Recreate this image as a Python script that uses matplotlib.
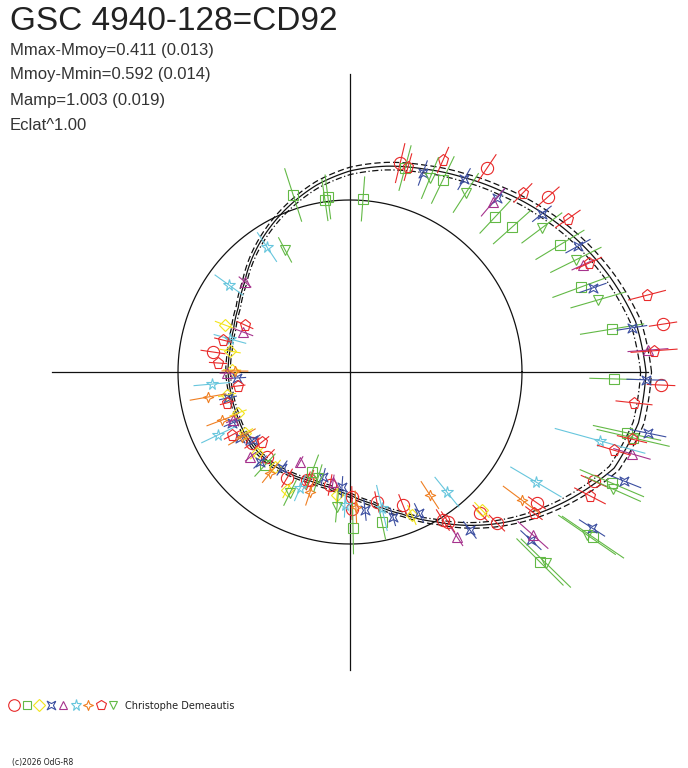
import numpy as np
import matplotlib
matplotlib.use("Agg")
import matplotlib.pyplot as plt
from matplotlib.path import Path
from matplotlib.patches import PathPatch

# phase angle (deg), relative flux (mean = 1), flux error
obs_circle = [(76.5, 1.249, 0.116), (56.1, 1.429, 0.093), (41.5, 1.536, 0.087), (8.7, 1.841, 0.08),
              (357.6, 1.81, 0.08), (335.9, 1.553, 0.08), (325.0, 1.327, 0.06), (312.7, 1.115, 0.06),
              (314.2, 1.225, 0.064), (302.1, 1.016, 0.07), (303.2, 1.042, 0.07), (291.7, 0.832, 0.064),
              (281.7, 0.772, 0.06), (270.9, 0.727, 0.06), (270.8, 0.797, 0.06), (260.0, 0.667, 0.06),
              (249.7, 0.67, 0.06), (239.3, 0.717, 0.06), (225.7, 0.691, 0.06), (215.9, 0.704, 0.05),
              (248.3, 0.676, 0.05), (171.7, 0.805, 0.07)]
obs_square = [(107.8, 1.081, 0.16), (97.2, 1.026, 0.128), (98.3, 1.01, 0.12), (85.7, 1.009, 0.128),
              (74.9, 1.228, 0.134), (64.2, 1.24, 0.15), (46.9, 1.234, 0.128), (41.8, 1.264, 0.145),
              (31.2, 1.427, 0.163), (20.2, 1.431, 0.174), (9.3, 1.544, 0.186), (358.5, 1.535, 0.14),
              (347.6, 1.649, 0.2), (346.9, 1.69, 0.215), (337.0, 1.654, 0.2), (325.8, 1.708, 0.215),
              (315.0, 1.562, 0.19), (282.0, 0.892, 0.1), (271.1, 0.907, 0.15), (249.2, 0.622, 0.105),
              (227.6, 0.733, 0.087)]
obs_diamond = [(313.7, 1.11, 0.06), (293.4, 0.906, 0.06), (264.0, 0.719, 0.05), (241.9, 0.778, 0.05),
               (221.1, 0.717, 0.05), (210.2, 0.706, 0.05), (231.7, 0.704, 0.05), (190.6, 0.727, 0.05),
               (200.1, 0.693, 0.05), (159.4, 0.776, 0.06), (170.1, 0.708, 0.06), (179.0, 0.686, 0.05)]
obs_cross = [(69.9, 1.232, 0.075), (59.4, 1.303, 0.07), (49.8, 1.324, 0.07), (39.5, 1.446, 0.07),
             (28.9, 1.514, 0.08), (19.1, 1.495, 0.08), (8.9, 1.659, 0.087), (358.5, 1.721, 0.11),
             (348.4, 1.769, 0.105), (338.3, 1.714, 0.105), (307.2, 1.153, 0.06), (317.1, 1.436, 0.08),
             (327.2, 1.674, 0.087), (296.1, 0.913, 0.06), (286.5, 0.879, 0.052), (276.2, 0.807, 0.06),
             (266.0, 0.67, 0.06), (255.6, 0.63, 0.05), (234.7, 0.684, 0.05), (225.0, 0.74, 0.05),
             (211.0, 0.746, 0.05), (215.0, 0.689, 0.05), (192.0, 0.725, 0.05), (203.4, 0.747, 0.05),
             (183.0, 0.658, 0.05)]
obs_triangle = [(49.9, 1.291, 0.105), (24.7, 1.491, 0.07), (4.2, 1.737, 0.116), (343.8, 1.707, 0.11),
                (318.3, 1.425, 0.116), (303.0, 1.143, 0.06), (261.2, 0.647, 0.04), (240.9, 0.599, 0.035),
                (220.4, 0.763, 0.035), (202.3, 0.735, 0.04), (159.5, 0.664, 0.06), (180.5, 0.715, 0.04),
                (139.4, 0.804, 0.045)]
obs_star = [(344.6, 1.508, 0.27), (329.4, 1.256, 0.17), (308.9, 0.897, 0.11), (283.2, 0.812, 0.134),
            (267.8, 0.774, 0.07), (246.7, 0.734, 0.08), (205.5, 0.85, 0.105), (185.0, 0.805, 0.105),
            (164.6, 0.724, 0.095), (123.6, 0.872, 0.1), (144.3, 0.866, 0.1)]
obs_sparkle = [(323.3, 1.246, 0.134), (303.0, 0.853, 0.093), (272.5, 0.786, 0.093), (251.6, 0.735, 0.08),
               (231.6, 0.749, 0.07), (211.0, 0.733, 0.09), (190.0, 0.838, 0.105), (200.6, 0.795, 0.093),
               (179.5, 0.669, 0.075)]
obs_pentagon = [(74.2, 1.238, 0.08), (66.3, 1.346, 0.08), (46.0, 1.447, 0.075), (35.1, 1.548, 0.087),
                (24.5, 1.527, 0.08), (14.5, 1.784, 0.11), (4.0, 1.772, 0.134), (353.8, 1.661, 0.105),
                (346.6, 1.685, 0.087), (343.5, 1.6, 0.1), (332.7, 1.57, 0.1), (322.5, 1.348, 0.06),
                (218.5, 0.654, 0.05), (208.1, 0.778, 0.05), (187.1, 0.656, 0.04), (194.1, 0.737, 0.04),
                (155.9, 0.669, 0.05), (165.9, 0.761, 0.05), (176.1, 0.769, 0.05)]
obs_tridown = [(67.6, 1.22, 0.128), (57.1, 1.24, 0.134), (36.9, 1.395, 0.145), (26.4, 1.466, 0.163),
               (16.2, 1.501, 0.163), (336.0, 1.673, 0.175), (325.5, 1.672, 0.2), (315.7, 1.591, 0.2),
               (264.5, 0.788, 0.087), (253.2, 0.644, 0.08), (243.6, 0.785, 0.08), (118.0, 0.804, 0.08)]

# fitted light curve, read every 10 deg of phase
fit_phase = np.arange(0, 370, 10)
fit_flux = [1.721, 1.686, 1.610, 1.529, 1.448, 1.372, 1.308, 1.256, 1.215, 1.169,
            1.105, 1.029, 0.953, 0.878, 0.802, 0.750, 0.721, 0.709, 0.709, 0.703,
            0.703, 0.709, 0.709, 0.703, 0.686, 0.674, 0.680, 0.715, 0.779, 0.878,
            1.006, 1.163, 1.320, 1.477, 1.634, 1.703, 1.721]
fit_sigma = 0.02  # mag

title = "GSC 4940-128=CD92"
info_lines = ["Mmax-Mmoy=0.411 (0.013)", "Mmoy-Mmin=0.592 (0.014)",
              "Mamp=1.003 (0.019)", "Eclat^1.00"]
observer = "Christophe Demeautis"

red = "#e82a2a"
green = "#63b946"
blue_star = [(1, 1), (0, 0.45), (-1, 1), (-0.45, 0), (-1, -1), (0, -0.45), (1, -1), (0.45, 0), (1, 1)]
spark = [(0, 1), (0.28, 0.28), (1, 0), (0.28, -0.28), (0, -1), (-0.28, -0.28), (-1, 0), (-0.28, 0.28), (0, 1)]
series = [(obs_circle, "o", red, 8.8),
          (obs_square, "s", green, 6.5),
          (obs_diamond, "D", "#f2e41c", 6.0),
          (obs_cross, blue_star, "#3b4ea0", 6.5),
          (obs_triangle, "^", "#a6338d", 6.5),
          (obs_star, "*", "#67c6dd", 8.5),
          (obs_sparkle, spark, "#ef7f22", 7.5),
          (obs_pentagon, "p", red, 8.2),
          (obs_tridown, "v", green, 6.5)]

W, H = 688, 768
fig = plt.figure(figsize=(W / 100, H / 100), dpi=100)
plt.rcParams['font.family'] = ['Liberation Sans', 'DejaVu Sans']

# polar axes: centre at (350, 372) px, 172 px per flux unit
R = 1.75
scale = 172.0
cx, cy = 350, 372
rad = R * scale
ax = fig.add_axes([(cx - rad) / W, (H - cy - rad) / H, 2 * rad / W, 2 * rad / H], projection='polar')
ax.set_ylim(0, R)
ax.set_axis_off()

th = np.radians(fit_phase)
ff = np.array(fit_flux)
k = 10 ** (0.4 * fit_sigma)
cross_r = 1.733
ink = "#111111"
for a in [0, np.pi / 2, np.pi, 3 * np.pi / 2]:
    ax.plot([a, a], [0, cross_r], color=ink, lw=0.9, clip_on=False)

circ = np.linspace(0, 2 * np.pi, 361)
ax.plot(circ, np.ones_like(circ), color=ink, lw=0.9, clip_on=False)


def polar_curve(r, ls):
    # polar transform bends each segment between read points
    p = Path(np.column_stack([th, r]), _interpolation_steps=12)
    ax.add_patch(PathPatch(p, fill=False, edgecolor=ink, lw=0.9, ls=ls,
                           transform=ax.transData, clip_on=False))


polar_curve(ff, "-")
polar_curve(ff * k, (0, (5, 2.5)))
polar_curve(ff / k, (0, (5, 2, 1, 2)))

for data, mk, col, ms in series:
    for ph, fl, er in data:
        t = np.radians(ph)
        ax.plot([t, t], [fl - er, fl + er], color=col, lw=0.8, clip_on=False)
    ph = np.radians([d[0] for d in data])
    fl = [d[1] for d in data]
    ax.plot(ph, fl, ls="none", marker=mk, ms=ms, mfc="none", mec=col, mew=0.8, clip_on=False)

fig.text(10 / W, 1 - 21 / H, title, fontsize=24, color="#222222", va="center", ha="left")
for i, s in enumerate(info_lines):
    fig.text(10 / W, 1 - (50 + 25 * i) / H, s, fontsize=12, color="#333333", va="center", ha="left")

# marker key at the bottom
lax = fig.add_axes([8 / W, 1 - 712 / H, 111 / W, 14 / H])
lax.set_xlim(-0.5, 8.5)
lax.set_ylim(-1, 1)
lax.set_axis_off()
for i, (data, mk, col, ms) in enumerate(series):
    lax.plot([i], [0], ls="none", marker=mk, ms=ms * 0.95, mfc="none", mec=col, mew=0.8, clip_on=False)
fig.text(125 / W, 1 - 706 / H, observer, fontsize=7, color="#222222", va="center", ha="left",
         family="DejaVu Sans")
fig.text(12 / W, 1 - 763 / H, "(c)2026 OdG-R8", fontsize=5.5, color="#222222", va="center", ha="left",
         family="DejaVu Sans")

fig.savefig("out.png", dpi=100)
